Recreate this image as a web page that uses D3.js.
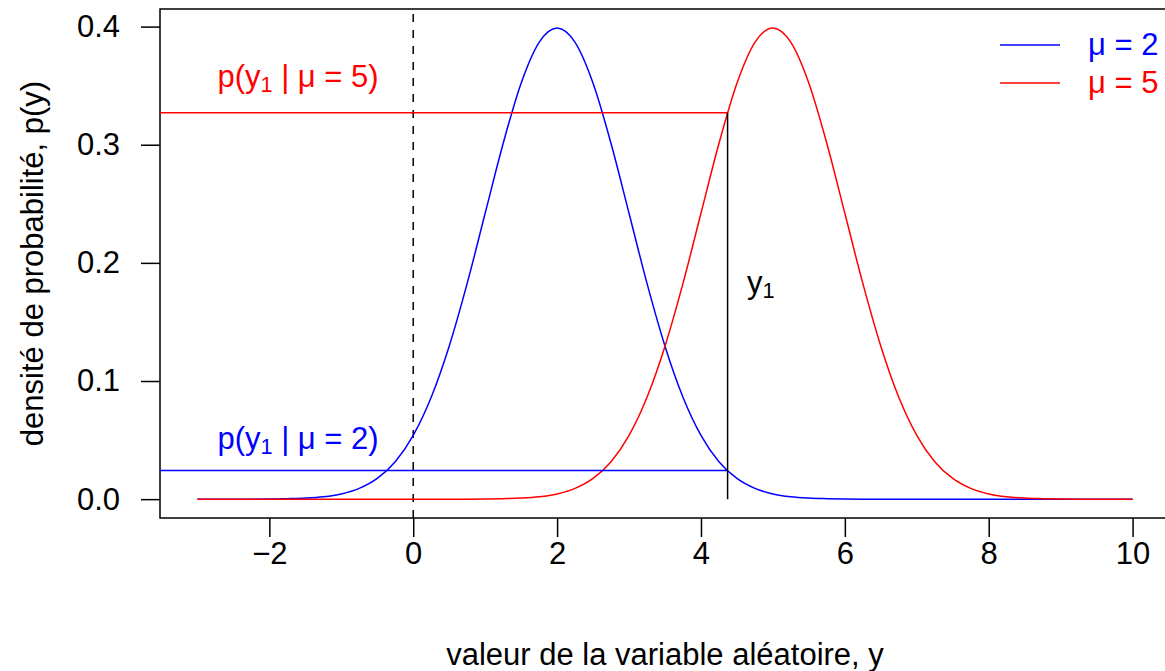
<!DOCTYPE html>
<html lang="fr">
<head>
<meta charset="UTF-8">
<title>densité</title>
<style>
    body { margin: 0; background: white; }
    svg text { font-family: "Liberation Sans", Arial, Helvetica, sans-serif; }
</style>
</head>
<body>
<div id="chart"></div>
<script src="https://cdn.jsdelivr.net/npm/d3@7"></script>
<script>
    // grille des valeurs de y
    const xs = [-3, -2.75, -2.5, -2.25, -2, -1.75, -1.5, -1.25, -1, -0.75, -0.5, -0.25,
        0, 0.25, 0.5, 0.75, 1, 1.25, 1.5, 1.75, 2, 2.25, 2.5, 2.75, 3, 3.25, 3.5, 3.75,
        4, 4.25, 4.5, 4.75, 5, 5.25, 5.5, 5.75, 6, 6.25, 6.5, 6.75, 7, 7.25, 7.5, 7.75,
        8, 8.25, 8.5, 8.75, 9, 9.25, 9.5, 9.75, 10];
    // densité, mu = 2
    const dens2 = [0, 0, 0, 0, 0.0001, 0.0004, 0.0009, 0.0020, 0.0044, 0.0091, 0.0175, 0.0317,
        0.0540, 0.0863, 0.1295, 0.1826, 0.2420, 0.3011, 0.3521, 0.3867, 0.3989, 0.3867, 0.3521, 0.3011,
        0.2420, 0.1826, 0.1295, 0.0863, 0.0540, 0.0317, 0.0175, 0.0091, 0.0044, 0.0020, 0.0009, 0.0004,
        0.0001, 0, 0, 0, 0, 0, 0, 0, 0, 0, 0, 0, 0, 0, 0, 0, 0];
    // densité, mu = 5
    const dens5 = [0, 0, 0, 0, 0, 0, 0, 0, 0, 0, 0, 0, 0, 0, 0, 0,
        0.0001, 0.0004, 0.0009, 0.0020, 0.0044, 0.0091, 0.0175, 0.0317, 0.0540, 0.0863, 0.1295, 0.1826,
        0.2420, 0.3011, 0.3521, 0.3867, 0.3989, 0.3867, 0.3521, 0.3011, 0.2420, 0.1826, 0.1295, 0.0863,
        0.0540, 0.0317, 0.0175, 0.0091, 0.0044, 0.0020, 0.0009, 0.0004, 0.0001, 0, 0, 0, 0];

    const mus = [2, 5];
    const colors = ["#0000ff", "#ff0000"];
    const y1 = 4.37;
    const pY1 = [0.0242, 0.327];

    const xTicks = [-2, 0, 2, 4, 6, 8, 10];
    const yTicks = [0, 0.1, 0.2, 0.3, 0.4];

    const width = 1165, height = 671;
    const fs = 31;

    const x = d3.scaleLinear().domain([-3.52, 10.52]).range([160, 1170]);
    const y = d3.scaleLinear().domain([-0.01596, 0.41489]).range([518, 9]);

    const svg = d3.select("#chart").append("svg")
        .attr("width", width)
        .attr("height", height);

    // axes
    const xAxis = svg.append("g")
        .attr("transform", `translate(0,${y.range()[0]})`)
        .call(d3.axisBottom(x).tickValues(xTicks).tickSize(19).tickPadding(5)
            .tickFormat(d => d < 0 ? "\u2212" + Math.abs(d) : d));
    const yAxis = svg.append("g")
        .attr("transform", `translate(${x.range()[0]},0)`)
        .call(d3.axisLeft(y).tickValues(yTicks).tickSize(19).tickPadding(21)
            .tickFormat(d3.format(".1f")));
    [xAxis, yAxis].forEach(a => {
        a.select(".domain").remove();
        a.selectAll("line").attr("stroke", "#000").attr("stroke-width", 1.5);
        a.selectAll("text").attr("font-size", fs).attr("fill", "#000")
            .attr("font-family", "Liberation Sans, Arial, sans-serif");
    });
    xAxis.selectAll("text").attr("dy", "0.72em");

    // cadre
    svg.append("rect")
        .attr("x", x.range()[0]).attr("y", y.range()[1])
        .attr("width", x.range()[1] - x.range()[0])
        .attr("height", y.range()[0] - y.range()[1])
        .attr("fill", "none").attr("stroke", "#000").attr("stroke-width", 1.5);

    // ligne verticale pointillée à 0
    svg.append("line")
        .attr("x1", x(0)).attr("x2", x(0))
        .attr("y1", y.range()[0]).attr("y2", y.range()[1])
        .attr("stroke", "#000").attr("stroke-width", 1.5)
        .attr("stroke-dasharray", "8,8");

    // courbes
    const line = d3.line()
        .x((d, i) => x(xs[i]))
        .y(d => y(d))
        .curve(d3.curveMonotoneX);
    [dens2, dens5].forEach((s, i) => {
        svg.append("path")
            .attr("d", line(s))
            .attr("fill", "none")
            .attr("stroke", colors[i])
            .attr("stroke-width", 1.5);
    });

    // lignes horizontales p(y1 | mu)
    pY1.forEach((p, i) => {
        svg.append("line")
            .attr("x1", x.range()[0]).attr("x2", x(y1))
            .attr("y1", y(p)).attr("y2", y(p))
            .attr("stroke", colors[i]).attr("stroke-width", 1.5);
    });
    // verticale y1
    svg.append("line")
        .attr("x1", x(y1)).attr("x2", x(y1))
        .attr("y1", y(0)).attr("y2", y(pY1[1]))
        .attr("stroke", "#000").attr("stroke-width", 1.5);

    // étiquettes p(y1 | mu = ...)
    function pLabel(xc, yb, mu, col) {
        const t = svg.append("text")
            .attr("x", xc).attr("y", yb)
            .attr("text-anchor", "middle")
            .attr("font-size", fs).attr("fill", col);
        t.append("tspan").text("p(y");
        t.append("tspan").attr("font-size", fs * 0.7).attr("dy", 5).text("1");
        t.append("tspan").attr("dy", -5).text(" | \u03bc = " + mu + ")");
    }
    pLabel(298, 87, mus[1], colors[1]);
    pLabel(298, 449, mus[0], colors[0]);

    const yl = svg.append("text")
        .attr("x", 747).attr("y", 293)
        .attr("font-size", fs).attr("fill", "#000");
    yl.append("tspan").text("y");
    yl.append("tspan").attr("font-size", fs * 0.7).attr("dy", 5).text("1");

    // légende
    mus.forEach((m, i) => {
        const ly = 45 + i * 38;
        svg.append("line")
            .attr("x1", 1000).attr("x2", 1060)
            .attr("y1", ly).attr("y2", ly)
            .attr("stroke", colors[i]).attr("stroke-width", 1.5);
        svg.append("text")
            .attr("x", 1088).attr("y", ly + 10)
            .attr("font-size", fs).attr("fill", colors[i])
            .text("\u03bc = " + m);
    });

    // titres des axes
    svg.append("text")
        .attr("x", (x.range()[0] + x.range()[1]) / 2).attr("y", 665)
        .attr("text-anchor", "middle")
        .attr("font-size", fs).attr("fill", "#000")
        .text("valeur de la variable aléatoire, y");
    svg.append("text")
        .attr("transform", `translate(43,${(y.range()[0] + y.range()[1]) / 2}) rotate(-90)`)
        .attr("text-anchor", "middle")
        .attr("font-size", fs).attr("fill", "#000")
        .text("densité de probabilité, p(y)");
</script>
</body>
</html>
